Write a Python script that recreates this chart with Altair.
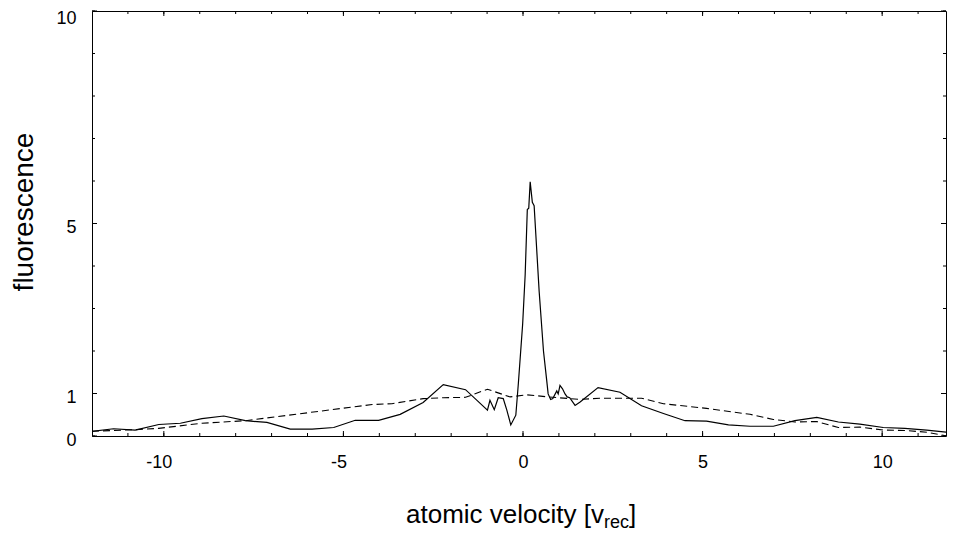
import altair as alt
import pandas as pd

# ---- data ----
solid_x = [-12, -11.4, -10.8, -10.14, -9.54, -8.94, -8.33, -7.73, -7.13, -6.48, -5.87, -5.27,
           -4.67, -4.02, -3.42, -2.78, -2.22, -1.60, -0.99, -0.92, -0.80, -0.69, -0.55, -0.45,
           -0.34, -0.20, -0.13, -0.01, 0.06, 0.12, 0.16, 0.20, 0.26, 0.31, 0.38, 0.45, 0.57,
           0.66, 0.70, 0.77, 0.83, 0.94, 0.98, 1.03, 1.10, 1.17, 1.23, 1.30, 1.45, 1.59, 2.09,
           2.70, 3.30, 3.91, 4.51, 5.11, 5.72, 6.32, 6.97, 7.57, 8.18, 8.78, 9.38, 10.03, 10.63,
           11.24, 11.80, 12.0]
solid_y = [0.11, 0.17, 0.14, 0.27, 0.30, 0.41, 0.47, 0.36, 0.32, 0.16, 0.16, 0.20,
           0.37, 0.37, 0.51, 0.79, 1.21, 1.09, 0.61, 0.84, 0.62, 0.90, 0.88, 0.61,
           0.26, 0.49, 1.23, 2.63, 3.79, 5.33, 5.36, 5.98, 5.50, 5.42, 4.41, 3.40, 2.00,
           1.31, 0.99, 0.86, 0.88, 1.06, 0.99, 1.19, 1.11, 0.99, 0.92, 0.90, 0.72, 0.80, 1.14,
           1.03, 0.71, 0.53, 0.36, 0.35, 0.26, 0.23, 0.23, 0.36, 0.44, 0.33, 0.28, 0.20, 0.18,
           0.14, 0.09, 0.12]

dash_x = [-12, -10.8, -10.14, -8.94, -7.73, -6.52, -5.32, -4.2, -3.65, -2.78, -2.22, -1.60,
          -0.99, -0.36, 0.10, 0.70, 1.59, 2.14, 3.30, 3.91, 5.11, 6.32, 6.97, 7.57, 8.18,
          8.78, 9.38, 10.03, 10.63, 11.24, 11.8, 12]
dash_y = [0.11, 0.15, 0.18, 0.30, 0.36, 0.49, 0.62, 0.74, 0.76, 0.88, 0.90, 0.91,
          1.10, 0.92, 0.97, 0.92, 0.86, 0.89, 0.89, 0.76, 0.65, 0.51, 0.39, 0.33, 0.34,
          0.20, 0.21, 0.14, 0.13, 0.09, 0.0, 0.0]

x_labels = [-10, -5, 0, 5, 10]
x_minor = list(range(-11, 12))
y_labels = [0, 1, 5, 10]
y_minor = list(range(0, 11))

x_title_main = "atomic velocity [v"
x_title_sub = "rec"
x_title_end = "]"
y_title = "fluorescence"

W, H = 854, 425          # plot box (right edge limited by the window)
XR = 862                 # pixel span of the full -12..12 range
FONT = "Liberation Sans"

xscale = alt.Scale(domain=[-12, 12], range=[0, XR], nice=False, zero=False)
yscale = alt.Scale(domain=[0, 10], nice=False, zero=False)

solid_df = pd.DataFrame({"x": solid_x, "y": solid_y})
dash_df = pd.DataFrame({"x": dash_x, "y": dash_y})

xaxis = alt.Axis(values=x_labels, title=None, grid=False, ticks=False, tickSize=0,
                 domain=False, labelFontSize=18, labelFont=FONT, labelColor="black",
                 labelPadding=17, labelFlush=False, labelOverlap=False,
                 labelOffset={"condition": {"test": "datum.value < 0", "value": -5},
                              "value": 0},
                 labelExpr="'' + datum.value")
yaxis = alt.Axis(values=y_labels, title=None, grid=False, ticks=False, tickSize=0,
                 domain=False, labelFontSize=18, labelFont=FONT, labelColor="black",
                 labelPadding=16, labelFlush=False, labelOverlap=False,
                 labelOffset={"condition": {"test": "datum.value >= 10", "value": 7},
                              "value": 4},
                 labelExpr="'' + datum.value")

X = lambda f: alt.X(f, scale=xscale, axis=xaxis, title=None)
Y = lambda f: alt.Y(f, scale=yscale, axis=yaxis, title=None)

solid = alt.Chart(solid_df).mark_line(color="black", strokeWidth=1.2, clip=True).encode(
    x=X("x:Q"), y=Y("y:Q"))
dashed = alt.Chart(dash_df).mark_line(color="black", strokeWidth=1.1, strokeDash=[7, 4],
                                      clip=True).encode(x=X("x:Q"), y=Y("y:Q"))

xmin_df = pd.DataFrame({"x": x_minor})
xmaj_df = pd.DataFrame({"x": x_labels})
ymin_df = pd.DataFrame({"y": y_minor})
ymaj_df = pd.DataFrame({"y": y_labels})


def xticks(df, length):
    base = alt.Chart(df).mark_rule(color="black", strokeWidth=1, clip=True)
    bottom = base.encode(x=X("x:Q"), y=alt.value(H), y2=alt.value(H - length))
    top = base.encode(x=X("x:Q"), y=alt.value(0), y2=alt.value(length))
    return [bottom, top]


def yticks(df, length):
    base = alt.Chart(df).mark_rule(color="black", strokeWidth=1)
    left = base.encode(y=Y("y:Q"), x=alt.value(0), x2=alt.value(length))
    right = base.encode(y=Y("y:Q"), x=alt.value(W), x2=alt.value(W - length))
    return [left, right]


one = pd.DataFrame({"a": [0]})
TX = 314
t_main = alt.Chart(one).mark_text(font=FONT, fontSize=26, align="left",
                                  baseline="alphabetic", color="black").encode(
    x=alt.value(TX), y=alt.value(512), text=alt.value(x_title_main))
t_sub = alt.Chart(one).mark_text(font=FONT, fontSize=18, align="left",
                                 baseline="alphabetic", color="black").encode(
    x=alt.value(TX + 198), y=alt.value(517), text=alt.value(x_title_sub))
t_end = alt.Chart(one).mark_text(font=FONT, fontSize=26, align="left",
                                 baseline="alphabetic", color="black").encode(
    x=alt.value(TX + 198 + 25), y=alt.value(512), text=alt.value(x_title_end))
t_y = alt.Chart(one).mark_text(font=FONT, fontSize=28, align="center",
                               baseline="alphabetic", angle=270, color="black").encode(
    x=alt.value(-59), y=alt.value(201), text=alt.value(y_title))

layers = [solid, dashed] + xticks(xmin_df, 3) + xticks(xmaj_df, 5) + \
    yticks(ymin_df, 3) + yticks(ymaj_df, 5) + [t_main, t_sub, t_end, t_y]

chart = alt.layer(*layers).properties(
    width=W, height=H,
    autosize=alt.AutoSizeParams(type="none"),
    padding={"left": 84, "top": 3, "right": 1, "bottom": 96},
    background="white",
).configure_view(stroke="black", strokeWidth=1)

chart.save("out.html", embed_options={"renderer": "svg", "actions": False})
